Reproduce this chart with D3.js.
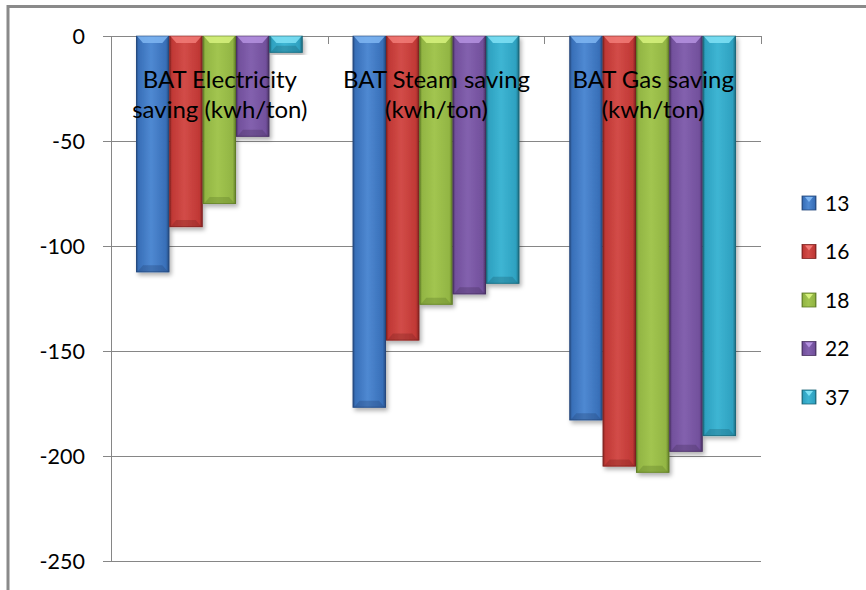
<!DOCTYPE html>
<html>
<head>
<meta charset="utf-8">
<script src="https://cdn.jsdelivr.net/npm/d3@7/dist/d3.min.js"></script>
<style>
  html, body { margin: 0; padding: 0; background: #fff; }
  svg text { font-family: Lato, "Open Sans", sans-serif; fill: #000; }
</style>
</head>
<body>
<svg id="chart" width="866" height="590"></svg>
<script>
// Category labels (each split into two lines)
const categories = ["elec", "steam", "gas"];
const categoryLines = [
  ["BAT Electricity", "saving (kwh/ton)"],
  ["BAT Steam saving", "(kwh/ton)"],
  ["BAT Gas saving", "(kwh/ton)"]
];
const seriesNames = ["13", "16", "18", "22", "37"];
// values per series, one per category
const s13 = [-112.5, -177, -183];
const s16 = [-91, -145, -205];
const s18 = [-80, -128, -208];
const s22 = [-48, -123, -198];
const s37 = [-8, -118, -190.5];
const yTicks = [0, -50, -100, -150, -200, -250];

const seriesValues = [s13, s16, s18, s22, s37];
const palette = [
  { base: "#386fb8", light: "#4f89d2", cap: "#7fb6f2", dark: "#24487c" },
  { base: "#c03835", light: "#d24c48", cap: "#f27b77", dark: "#7e2220" },
  { base: "#92b543", light: "#a2c550", cap: "#d7f27e", dark: "#5e7a27" },
  { base: "#72509c", light: "#8361ae", cap: "#b592e0", dark: "#47305f" },
  { base: "#2ea1c0", light: "#3eb5d3", cap: "#7fe2f6", dark: "#1c6577" }
];

const svg = d3.select("#chart");
const plot = { left: 111, right: 761, top: 36, bottom: 561 };

const y = d3.scaleLinear().domain([0, -250]).range([plot.top, plot.bottom]);
const x0 = d3.scaleBand().domain(categories).range([plot.left, plot.right]).paddingInner(0).paddingOuter(0);
// 5 bars occupy 5 / 6.5 of each category slot (gap 150% of bar width)
const bw = x0.bandwidth() / 6.5;
const x1 = d3.scaleBand().domain(seriesNames).range([0.75 * bw, 5.75 * bw]).padding(0);

const defs = svg.append("defs");
palette.forEach((c, i) => {
  const g = defs.append("linearGradient").attr("id", "grad" + i)
    .attr("x1", "0").attr("x2", "1").attr("y1", "0").attr("y2", "0");
  g.append("stop").attr("offset", "0").attr("stop-color", c.dark);
  g.append("stop").attr("offset", "0.08").attr("stop-color", c.base);
  g.append("stop").attr("offset", "0.45").attr("stop-color", c.light);
  g.append("stop").attr("offset", "0.9").attr("stop-color", c.base);
  g.append("stop").attr("offset", "1").attr("stop-color", c.dark);
});
const shadow = defs.append("filter").attr("id", "shadow")
  .attr("x", "-20%").attr("y", "-5%").attr("width", "150%").attr("height", "115%");
shadow.append("feDropShadow").attr("dx", 2).attr("dy", 3).attr("stdDeviation", 2)
  .attr("flood-color", "#000").attr("flood-opacity", 0.3);

// outer frame (top and left edges)
svg.append("path")
  .attr("d", "M8,590 L8,6.5 L866,6.5")
  .attr("fill", "none").attr("stroke", "#8a8a8a").attr("stroke-width", 3);

// horizontal gridlines
const grid = svg.append("g");
grid.selectAll("line").data(yTicks).join("line")
  .attr("x1", plot.left - 8).attr("x2", plot.right)
  .attr("y1", d => Math.round(y(d)) + 0.5).attr("y2", d => Math.round(y(d)) + 0.5)
  .attr("stroke", "#868686").attr("stroke-width", 1);

// value axis line
svg.append("line")
  .attr("x1", plot.left + 0.5).attr("x2", plot.left + 0.5)
  .attr("y1", plot.top).attr("y2", plot.bottom)
  .attr("stroke", "#868686");

// category tick marks hanging from the zero line
const catEdges = categories.map(c => x0(c)).concat([plot.right]);
svg.append("g").selectAll("line").data(catEdges).join("line")
  .attr("x1", d => Math.round(d) + 0.5).attr("x2", d => Math.round(d) + 0.5)
  .attr("y1", y(0)).attr("y2", y(0) + 8)
  .attr("stroke", "#868686");

// y tick labels
svg.append("g").selectAll("text").data(yTicks).join("text")
  .attr("x", 85).attr("y", d => y(d) + 7.5)
  .attr("text-anchor", "end")
  .attr("font-size", 21.5)
  .text(d => d === 0 ? "0" : "-" + Math.abs(d));

// bars
const groups = svg.append("g").selectAll("g").data(categories).join("g")
  .attr("transform", c => `translate(${x0(c)},0)`);

groups.each(function(c, ci) {
  const g = d3.select(this);
  seriesNames.forEach((s, si) => {
    const v = seriesValues[si][ci];
    const bx = x1(s), w = x1.bandwidth();
    const top = y(0), bot = y(v);
    const h = bot - top;
    const col = palette[si];
    const bar = g.append("g").attr("filter", "url(#shadow)");
    bar.append("rect").attr("x", bx).attr("y", top).attr("width", w).attr("height", h)
      .attr("fill", `url(#grad${si})`);
    const bev = Math.min(7, h / 2);
    // light cap at the top edge
    bar.append("path")
      .attr("d", `M${bx + 1},${top} L${bx + w - 1},${top} L${bx + w - 7},${top + bev} L${bx + 7},${top + bev} Z`)
      .attr("fill", col.cap).attr("opacity", 0.85);
    // darker bevel at the bar end
    bar.append("path")
      .attr("d", `M${bx + 1},${bot} L${bx + w - 1},${bot} L${bx + w - 7},${bot - bev} L${bx + 7},${bot - bev} Z`)
      .attr("fill", col.dark).attr("opacity", 0.35);
    bar.append("rect").attr("x", bx + 0.5).attr("y", top).attr("width", w - 1).attr("height", h - 0.5)
      .attr("fill", "none").attr("stroke", col.dark).attr("stroke-opacity", 0.6).attr("stroke-width", 1);
  });
});

// category labels over the bars
const labels = svg.append("g").selectAll("text").data(categories).join("text")
  .attr("text-anchor", "middle")
  .attr("font-size", 24)
  .attr("x", c => x0(c) + x0.bandwidth() / 2 + 0.5)
  .attr("y", 88);
labels.each(function(c, i) {
  const t = d3.select(this);
  categoryLines[i].forEach((line, li) => {
    t.append("tspan").attr("x", x0(c) + x0.bandwidth() / 2 + 0.5)
      .attr("dy", li === 0 ? 0 : 30).text(line);
  });
});

// legend
const legend = svg.append("g").attr("transform", "translate(802,0)");
const legendY = d3.scalePoint().domain(seriesNames).range([203, 397]);
const items = legend.selectAll("g").data(seriesNames).join("g")
  .attr("transform", s => `translate(0,${legendY(s)})`);
items.append("rect").attr("x", 0).attr("y", -7).attr("width", 14).attr("height", 14)
  .attr("fill", (s, i) => `url(#grad${i})`)
  .attr("stroke", (s, i) => palette[i].dark).attr("stroke-width", 0.8);
items.append("path")
  .attr("d", "M3,-6 L11,-6 L7,-1 Z")
  .attr("fill", (s, i) => palette[i].cap);
items.append("text").attr("x", 23).attr("y", 7.5).attr("font-size", 21).text(s => s);
</script>
</body>
</html>
